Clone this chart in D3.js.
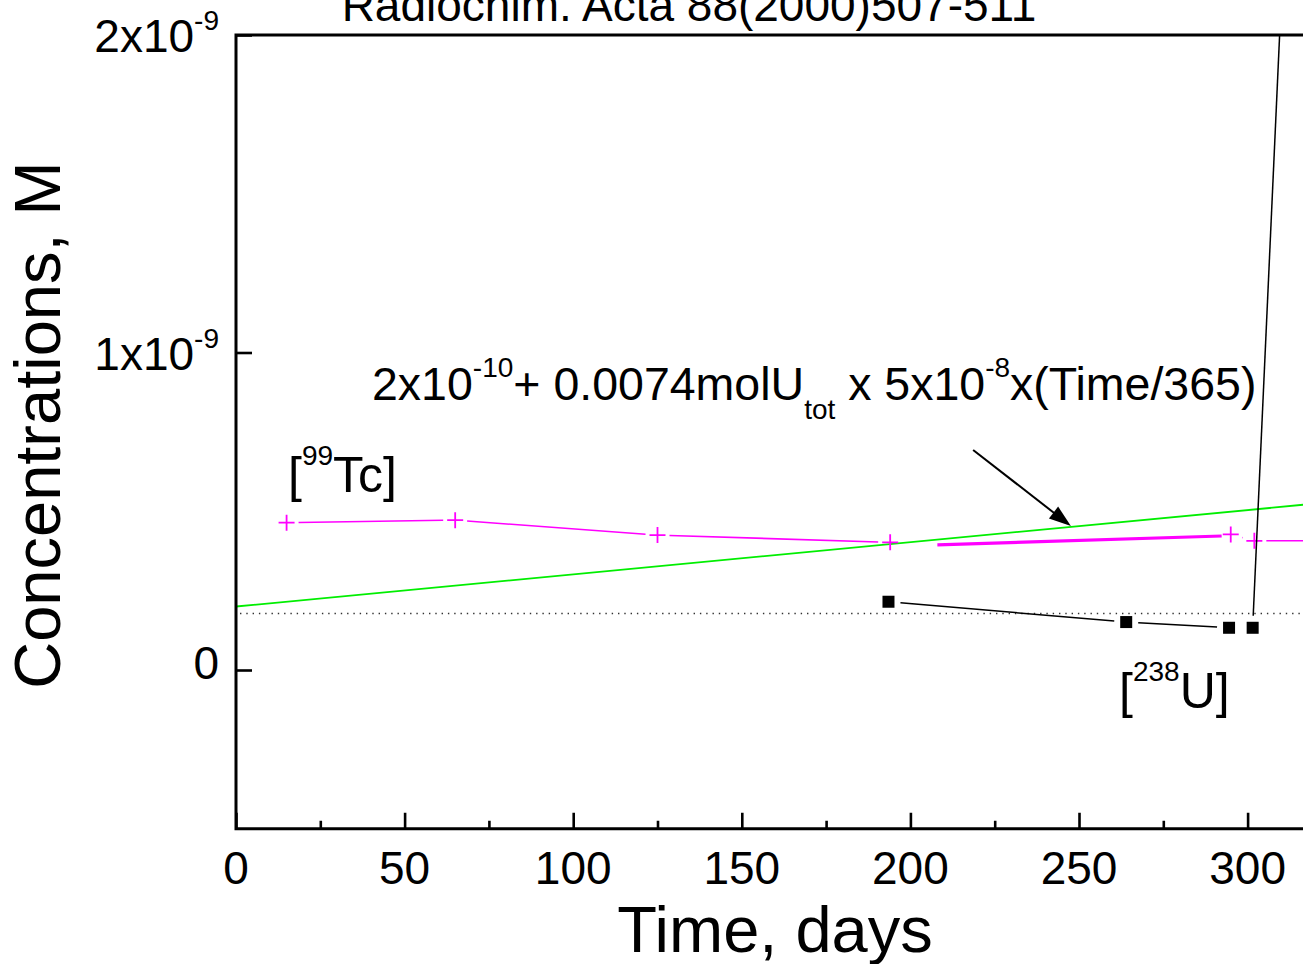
<!DOCTYPE html>
<html><head><meta charset="utf-8">
<script src="https://cdn.jsdelivr.net/npm/d3@7"></script>
<style>
html,body{margin:0;padding:0;background:#fff;overflow:hidden}
svg{display:block;font-family:"Liberation Sans",Arial,sans-serif}
</style></head><body>
<svg id="chart" width="1303" height="964"></svg>
<script>
// [99Tc] measurements (days, mol/L); two runs of connected points
const tcDays = [15, 65, 125, 194];
const tcConc = [4.64e-10, 4.72e-10, 4.25e-10, 4.02e-10];
const tcDays2 = [295, 302, 330];
const tcConc2 = [4.27e-10, 4.07e-10, 4.07e-10];
// Tc trend segment (thick)
const tcTrendDays = [208, 292.3];
const tcTrendConc = [3.94e-10, 4.22e-10];
// [238U] measurements
const uDays = [193.5, 264, 294.5, 301.5, 325];
const uConc = [2.15e-10, 1.51e-10, 1.33e-10, 1.33e-10, 5.62e-9];
// model line: 2e-10 + 0.0074 molU_tot x 5e-8 x (Time/365), end points
const modelDays = [0, 320];
const modelConc = [2.0e-10, 5.24e-10];
// dotted reference level
const refLevel = [1.78e-10];
// axis ticks
const xTicks = [0, 50, 100, 150, 200, 250, 300];
const xMinorTicks = [25, 75, 125, 175, 225, 275];
const yTicks = [0, 1e-9, 2e-9];
const yTickBase = ["0", "1x10", "2x10"];
const yTickExp = ["", "-9", "-9"];

const svg = d3.select("#chart");
const plotLeft = 236, plotTop = 35;
const x = d3.scaleLinear().domain([0, 320]).range([plotLeft, plotLeft + 320 * 3.372]);
const y = d3.scaleLinear().domain([-0.5e-9, 2e-9]).range([828.75, plotTop]);
const plotRight = x(320), plotBottom = y(-0.5e-9);

svg.append("defs").append("clipPath").attr("id", "plotClip")
  .append("rect").attr("x", plotLeft).attr("y", plotTop)
  .attr("width", plotRight - plotLeft).attr("height", plotBottom - plotTop);

const plot = svg.append("g").attr("clip-path", "url(#plotClip)");

const toPts = (xs, ys) => xs.map((d, i) => [x(d), y(ys[i])]);

// Line segments between markers, with a gap around every marker
function gappedLine(g, pts, gap, color, width) {
  for (let i = 0; i < pts.length - 1; i++) {
    const [x0, y0] = pts[i], [x1, y1] = pts[i + 1];
    const len = Math.hypot(x1 - x0, y1 - y0);
    if (len <= 2 * gap) continue;
    const ux = (x1 - x0) / len, uy = (y1 - y0) / len;
    g.append("line")
      .attr("x1", x0 + ux * gap).attr("y1", y0 + uy * gap)
      .attr("x2", x1 - ux * gap).attr("y2", y1 - uy * gap)
      .attr("stroke", color).attr("stroke-width", width);
  }
}

// dotted reference level
plot.selectAll("line.ref").data(refLevel).join("line").attr("class", "ref")
  .attr("x1", plotLeft + 4).attr("x2", plotRight)
  .attr("y1", d => y(d)).attr("y2", d => y(d))
  .attr("stroke", "#333").attr("stroke-width", 1.4)
  .attr("stroke-dasharray", "1.4 4.9");

// model line
plot.append("path")
  .datum(toPts(modelDays, modelConc))
  .attr("d", d3.line())
  .attr("fill", "none").attr("stroke", "#00ee00").attr("stroke-width", 1.8);

// Tc
const magenta = "#ff00ff";
gappedLine(plot, toPts(tcDays, tcConc), 12, magenta, 1.6);
gappedLine(plot, toPts(tcDays2, tcConc2), 12, magenta, 1.6);
plot.append("path")
  .datum(toPts(tcTrendDays, tcTrendConc))
  .attr("d", d3.line())
  .attr("fill", "none").attr("stroke", magenta).attr("stroke-width", 3.2);
const tcAll = toPts(tcDays.concat(tcDays2), tcConc.concat(tcConc2));
plot.selectAll("path.tc").data(tcAll).join("path").attr("class", "tc")
  .attr("d", d => `M${d[0] - 8},${d[1]}h16M${d[0]},${d[1] - 8}v16`)
  .attr("stroke", magenta).attr("stroke-width", 1.8).attr("fill", "none");

// U
const uPts = toPts(uDays, uConc);
gappedLine(plot, uPts, 12, "#000", 1.5);
plot.selectAll("rect.u").data(uPts).join("rect").attr("class", "u")
  .attr("x", d => d[0] - 6).attr("y", d => d[1] - 6)
  .attr("width", 12).attr("height", 12).attr("fill", "#000");

// frame and ticks
const axisW = 3;
svg.append("rect").attr("x", plotLeft).attr("y", plotTop)
  .attr("width", plotRight - plotLeft + 20).attr("height", plotBottom - plotTop)
  .attr("fill", "none").attr("stroke", "#000").attr("stroke-width", axisW);

const xAxis = d3.axisBottom(x).tickValues(xTicks).tickSize(-16).tickFormat("");
const gx = svg.append("g").attr("transform", `translate(0,${plotBottom})`).call(xAxis);
gx.select(".domain").remove();
gx.selectAll(".tick line").attr("stroke-width", 2.6);
const gxm = svg.append("g").attr("transform", `translate(0,${plotBottom})`)
  .call(d3.axisBottom(x).tickValues(xMinorTicks).tickSize(-8).tickFormat(""));
gxm.select(".domain").remove();
gxm.selectAll(".tick line").attr("stroke-width", 2.6);

const yAxis = d3.axisLeft(y).tickValues(yTicks).tickSize(-16).tickFormat("");
const gy = svg.append("g").attr("transform", `translate(${plotLeft},0)`).call(yAxis);
gy.select(".domain").remove();
gy.selectAll(".tick line").attr("stroke-width", 2.6);

// tick labels
svg.append("g").selectAll("text").data(xTicks).join("text")
  .attr("x", d => x(d)).attr("y", plotBottom + 55)
  .attr("text-anchor", "middle").attr("font-size", 46).text(d => d);

const yl = svg.append("g").selectAll("text").data(yTicks).join("text")
  .attr("x", 219)
  .attr("y", (d, i) => y(d) + (yTickExp[i] ? 17 : 8.5))
  .attr("text-anchor", "end").attr("font-size", 46);
yl.append("tspan").text((d, i) => yTickBase[i]);
yl.append("tspan").attr("font-size", 28).attr("dy", (d, i) => yTickExp[i] ? -22 : 0)
  .text((d, i) => yTickExp[i]);

// axis titles
svg.append("text").attr("x", 775).attr("y", 952)
  .attr("text-anchor", "middle").attr("font-size", 65).text("Time, days");
svg.append("text").attr("transform", "translate(60,425) rotate(-90)")
  .attr("text-anchor", "middle").attr("font-size", 65).text("Concentrations, M");

// title
svg.append("text").attr("x", 689).attr("y", 21)
  .attr("text-anchor", "middle").attr("font-size", 46)
  .text("Radiochim. Acta 88(2000)507-511");

// model formula
const f = svg.append("text").attr("x", 372).attr("y", 400).attr("font-size", 46.5);
f.append("tspan").text("2x10");
f.append("tspan").attr("font-size", 28).attr("dy", -23).text("-10");
f.append("tspan").attr("dy", 23).text("+ 0.0074molU");
f.append("tspan").attr("font-size", 28).attr("dy", 19).text("tot");
f.append("tspan").attr("dy", -19).text(" x 5x10");
f.append("tspan").attr("font-size", 28).attr("dy", -23).text("-8");
f.append("tspan").attr("dy", 23).text("x(Time/365)");

// arrow pointing at the model line
const arrowFrom = [218.6, 6.93e-10], arrowTo = [247.6, 4.535e-10];
const ax0 = x(arrowFrom[0]), ay0 = y(arrowFrom[1]);
const ax1 = x(arrowTo[0]), ay1 = y(arrowTo[1]);
const alen = Math.hypot(ax1 - ax0, ay1 - ay0);
const aux = (ax1 - ax0) / alen, auy = (ay1 - ay0) / alen;
const headL = 22, headW = 7.5;
svg.append("line").attr("x1", ax0).attr("y1", ay0)
  .attr("x2", ax1 - aux * headL * 0.8).attr("y2", ay1 - auy * headL * 0.8)
  .attr("stroke", "#000").attr("stroke-width", 2);
const bx = ax1 - aux * headL, by = ay1 - auy * headL;
svg.append("path")
  .attr("d", `M${ax1},${ay1}L${bx - auy * headW},${by + aux * headW}L${bx + auy * headW},${by - aux * headW}Z`)
  .attr("fill", "#000");

// series labels
const tl = svg.append("text").attr("x", 288).attr("y", 492).attr("font-size", 50);
tl.append("tspan").text("[");
tl.append("tspan").attr("font-size", 28).attr("dy", -27).text("99");
tl.append("tspan").attr("dy", 27).text("Tc]");

const ul = svg.append("text").attr("x", 1119).attr("y", 708).attr("font-size", 50);
ul.append("tspan").text("[");
ul.append("tspan").attr("font-size", 28).attr("dy", -27).text("238");
ul.append("tspan").attr("dy", 27).text("U]");
</script>
</body></html>
